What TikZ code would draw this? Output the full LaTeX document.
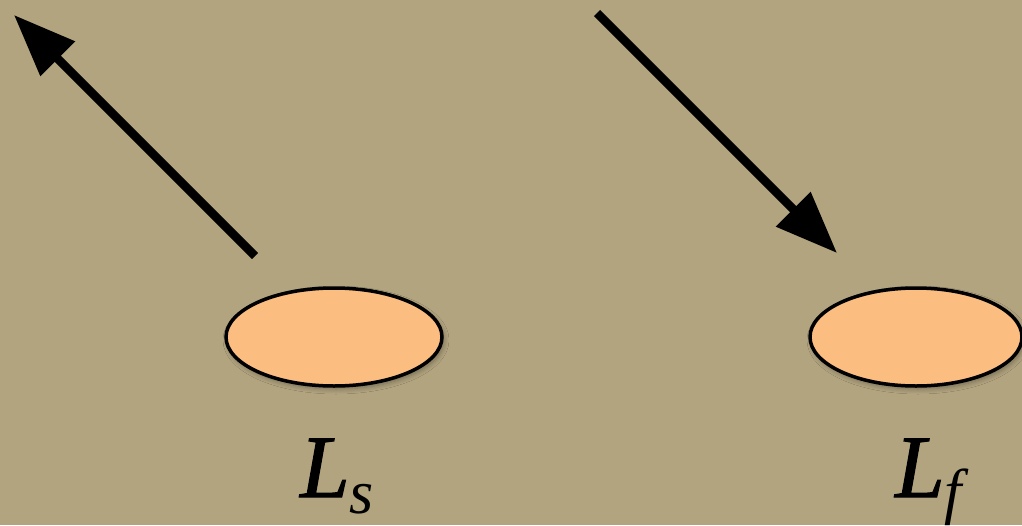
\documentclass[tikz,border=0pt]{standalone}
\usepackage{fontspec}
\setmainfont{Liberation Serif}
\newfontfamily\lblfont[FakeBold=1.2]{Liberation Serif}
\usetikzlibrary{arrows.meta,shapes.geometric,shadows.blur}
\definecolor{bgtan}{RGB}{178,164,127}
\definecolor{lensfill}{RGB}{251,190,128}
\tikzset{
  lens/.style={ellipse, draw=black, line width=3.5pt, fill=lensfill, inner sep=0pt,
    minimum width=216pt, minimum height=98pt,
    blur shadow={shadow xshift=2pt, shadow yshift=-3pt, shadow blur steps=6, shadow opacity=35, shadow blur radius=5pt}},
  ray/.style={line width=8.5pt, -{Triangle[length=62pt,width=47pt]}},
  lbl/.style={anchor=base west, inner sep=0pt, font=\fontsize{89}{89}\selectfont\itshape},
  sub/.style={}
}
\newcommand{\bigL}{{\lblfont\itshape L}}
\newcommand{\subtxt}[1]{{\fontsize{62}{62}\selectfont\normalfont\itshape #1}}
\begin{document}
\begin{tikzpicture}[x=1pt,y=-1pt]
\useasboundingbox[fill=bgtan] (0,0) rectangle (1022,525);
\node[lens] (ls) at (334,337) {};
\node[lens, minimum width=212pt] (lf) at (916,337) {};
\coordinate (a1s) at (255,256);
\coordinate (a1e) at (14,15);
\coordinate (a2s) at (597,13);
\coordinate (a2e) at (837,253);
\draw[ray] (a1s) -- (a1e);
\draw[ray] (a2s) -- (a2e);
\node[lbl] (tls) at (300,497) {\bigL\raisebox{-16pt}{\subtxt{s}}};
\node[lbl] (tlf) at (895,497) {\bigL\raisebox{-15pt}{\subtxt{f}}};
\end{tikzpicture}
\end{document}
